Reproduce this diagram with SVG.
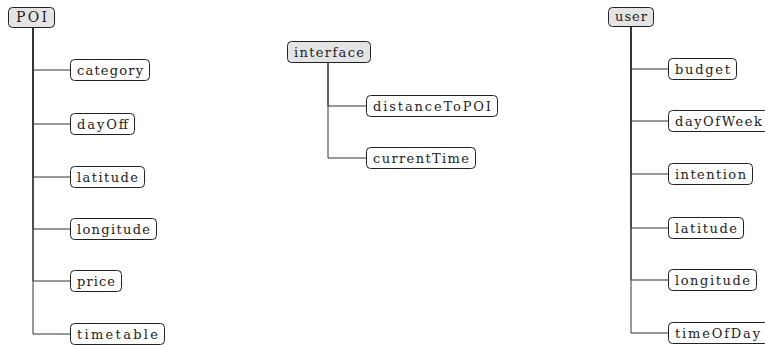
<svg xmlns="http://www.w3.org/2000/svg" width="765" height="345" viewBox="0 0 765 345">
<style>
.box{fill:#fff;stroke:#222;stroke-width:1}
.root{fill:#e4e4e4;stroke:#222;stroke-width:1}
text{font-family:"DejaVu Serif","Liberation Serif",serif;font-size:13px;fill:#222}
.c{fill:none;stroke:#333;stroke-width:1}
</style>
<rect width="765" height="345" fill="#fff"/>
<g id="connectors">
<path class="c" d="M33 27V70H70"/>
<path class="c" d="M33 27V124H70"/>
<path class="c" d="M33 27V177H70"/>
<path class="c" d="M33 27V229H70"/>
<path class="c" d="M33 27V281H70"/>
<path class="c" d="M33 27V334H70"/>
<path class="c" d="M328 62V106H366"/>
<path class="c" d="M328 62V158H366"/>
<path class="c" d="M631 27V69H668"/>
<path class="c" d="M631 27V121H668"/>
<path class="c" d="M631 27V174H668"/>
<path class="c" d="M631 27V228H668"/>
<path class="c" d="M631 27V280H668"/>
<path class="c" d="M631 27V333H668"/>
</g>
<g id="POI"><rect class="root" x="8.5" y="7.5" width="46" height="20" rx="4"/><text x="31.5" y="22" text-anchor="middle" style="font-size:14px" textLength="31" lengthAdjust="spacing">POI</text></g>
<g id="category"><rect class="box" x="70.5" y="59.5" width="79" height="21" rx="4"/><text x="77" y="74.5" textLength="66" lengthAdjust="spacing">category</text></g>
<g id="dayOff"><rect class="box" x="70.5" y="113.5" width="64" height="21" rx="4"/><text x="77" y="128.5" textLength="51" lengthAdjust="spacing">dayOff</text></g>
<g id="latitude1"><rect class="box" x="70.5" y="166.5" width="74" height="21" rx="4"/><text x="77" y="181.5" textLength="61" lengthAdjust="spacing">latitude</text></g>
<g id="longitude1"><rect class="box" x="70.5" y="218.5" width="86" height="21" rx="4"/><text x="77" y="233.5" textLength="73" lengthAdjust="spacing">longitude</text></g>
<g id="price"><rect class="box" x="70.5" y="270.5" width="51" height="21" rx="4"/><text x="77" y="285.5" textLength="38" lengthAdjust="spacing">price</text></g>
<g id="timetable"><rect class="box" x="70.5" y="323.5" width="94" height="21" rx="4"/><text x="77" y="338.5" textLength="81" lengthAdjust="spacing">timetable</text></g>
<g id="interface"><rect class="root" x="287.5" y="41.5" width="83" height="21" rx="4"/><text x="294" y="56.5" textLength="70" lengthAdjust="spacing">interface</text></g>
<g id="distanceToPOI"><rect class="box" x="366.5" y="95.5" width="131" height="21" rx="4"/><text x="373" y="110.5" textLength="118" lengthAdjust="spacing">distanceToPOI</text></g>
<g id="currentTime"><rect class="box" x="366.5" y="147.5" width="109" height="21" rx="4"/><text x="373" y="162.5" textLength="96" lengthAdjust="spacing">currentTime</text></g>
<g id="user"><rect class="root" x="608.5" y="7.5" width="45" height="19" rx="4"/><text x="615" y="21" textLength="32" lengthAdjust="spacing">user</text></g>
<g id="budget"><rect class="box" x="668.5" y="58.5" width="68" height="21" rx="4"/><text x="675" y="73.5" textLength="55" lengthAdjust="spacing">budget</text></g>
<g id="dayOfWeek"><rect class="box" x="668.5" y="110.5" width="100" height="21" rx="4"/><text x="675" y="125.5" textLength="87" lengthAdjust="spacing">dayOfWeek</text></g>
<g id="intention"><rect class="box" x="668.5" y="163.5" width="84" height="21" rx="4"/><text x="675" y="178.5" textLength="71" lengthAdjust="spacing">intention</text></g>
<g id="latitude2"><rect class="box" x="668.5" y="217.5" width="75" height="21" rx="4"/><text x="675" y="232.5" textLength="62" lengthAdjust="spacing">latitude</text></g>
<g id="longitude2"><rect class="box" x="668.5" y="269.5" width="88" height="21" rx="4"/><text x="675" y="284.5" textLength="75" lengthAdjust="spacing">longitude</text></g>
<g id="timeOfDay"><rect class="box" x="668.5" y="322.5" width="100" height="21" rx="4"/><text x="675" y="337.5" textLength="85" lengthAdjust="spacing">timeOfDay</text></g>
</svg>
